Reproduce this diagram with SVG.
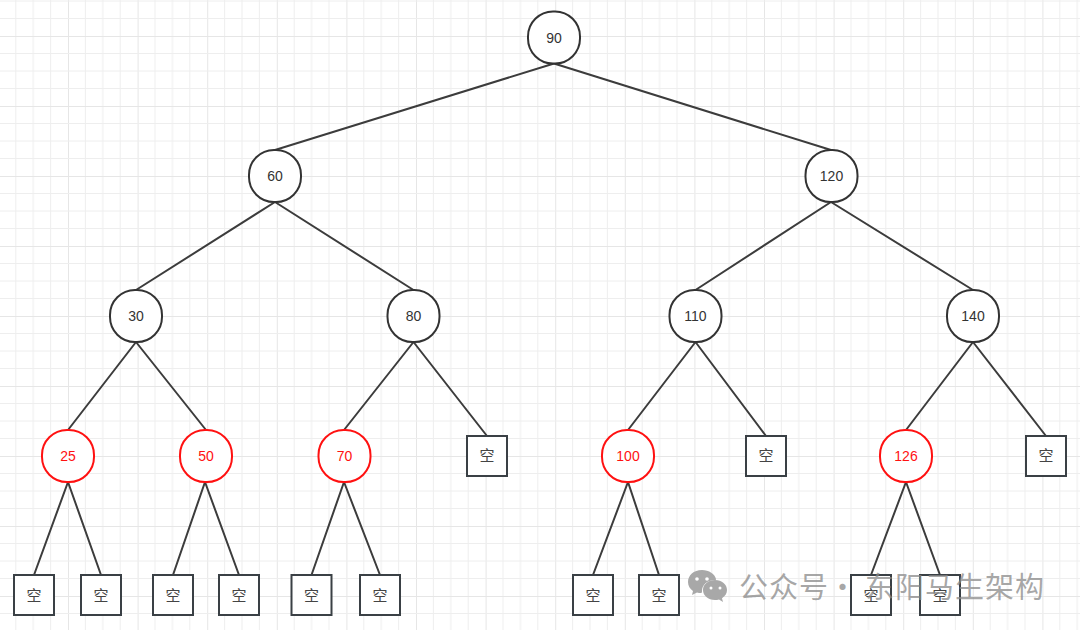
<svg xmlns="http://www.w3.org/2000/svg" width="1080" height="630" viewBox="0 0 1080 630">
<style>
.n{fill:#fff;stroke:#333;stroke-width:2;width:52px;height:52px;rx:25px}
.r{fill:#fff;stroke:#f11;stroke-width:2;width:52px;height:52px;rx:25px}
.s{fill:#fff;stroke:#3a4045;stroke-width:2;width:40px;height:40px}
.t{font:14px "Liberation Sans",Arial,sans-serif;fill:#333;text-anchor:middle}
.tr{font:14px "Liberation Sans",Arial,sans-serif;fill:#f11;text-anchor:middle}
.k{font:15px "Noto Sans CJK SC",sans-serif;fill:#444;text-anchor:middle}
.c{stroke:#3c3c3c;stroke-width:2;fill:none}
.w{font:29px "Noto Sans CJK SC",sans-serif;fill:#8a8a8a;fill-opacity:.75;letter-spacing:1px}
</style>
<defs>
<pattern id="gv" patternUnits="userSpaceOnUse" x="-1.6" y="0" width="69.6" height="70">
<path d="M17.4 0V70M34.8 0V70M52.2 0V70" stroke="#eeeeee" stroke-width="1" fill="none"/>
<path d="M0 0V70" stroke="#e6e6e6" stroke-width="2" fill="none"/>
</pattern>
<pattern id="gh" patternUnits="userSpaceOnUse" x="0" y="36" width="70" height="70">
<path d="M0 17.5H70M0 35H70M0 52.5H70" stroke="#eeeeee" stroke-width="1" fill="none"/>
<path d="M0 0H70" stroke="#e6e6e6" stroke-width="2" fill="none"/>
</pattern>
</defs>
<rect width="1080" height="630" fill="#fff"/>
<rect width="1080" height="630" fill="url(#gv)"/>
<rect width="1080" height="630" fill="url(#gh)"/>
<g id="connectors" class="c">
<path d="M554 63.5L275 150M554 63.5L831 150"/>
<path d="M275 202L136 290M275 202L413.5 290M831 202L695.5 290M831 202L973 290"/>
<path d="M136 342L68 430M136 342L206 430M413.5 342L344 430M413.5 342L487 436M695.5 342L628 430M695.5 342L766 436M973 342L906 430M973 342L1046 436"/>
<path d="M68 482L34 575M68 482L101 575M205 482L173 575M205 482L239 575M344 482L311.5 575M344 482L380 575M628 482L593 575M628 482L659 575M906 482L871 575M906 482L940 575"/>
</g>
<g id="n90"><rect class="n" x="528" y="11.500"/><text class="t" x="554" y="42.500">90</text></g>
<g id="n60"><rect class="n" x="249" y="150"/><text class="t" x="275" y="181">60</text></g>
<g id="n120"><rect class="n" x="805.500" y="150"/><text class="t" x="831.500" y="181">120</text></g>
<g id="n30"><rect class="n" x="110" y="290"/><text class="t" x="136" y="321">30</text></g>
<g id="n80"><rect class="n" x="387.500" y="290"/><text class="t" x="413.500" y="321">80</text></g>
<g id="n110"><rect class="n" x="669.500" y="290"/><text class="t" x="695.500" y="321">110</text></g>
<g id="n140"><rect class="n" x="947" y="290"/><text class="t" x="973" y="321">140</text></g>
<g id="n25"><rect class="r" x="42" y="430"/><text class="tr" x="68" y="461">25</text></g>
<g id="n50"><rect class="r" x="180" y="430"/><text class="tr" x="206" y="461">50</text></g>
<g id="n70"><rect class="r" x="318.500" y="430"/><text class="tr" x="344.500" y="461">70</text></g>
<g id="e1"><rect class="s" x="467" y="436"/><text class="k" x="487" y="461">空</text></g>
<g id="n100"><rect class="r" x="602" y="430"/><text class="tr" x="628" y="461">100</text></g>
<g id="e2"><rect class="s" x="746" y="436"/><text class="k" x="766" y="461">空</text></g>
<g id="n126"><rect class="r" x="880" y="430"/><text class="tr" x="906" y="461">126</text></g>
<g id="e3"><rect class="s" x="1026" y="436"/><text class="k" x="1046" y="461">空</text></g>
<g id="e4"><rect class="s" x="14" y="575"/><text class="k" x="34" y="600.500">空</text></g>
<g id="e5"><rect class="s" x="81" y="575"/><text class="k" x="101" y="600.500">空</text></g>
<g id="e6"><rect class="s" x="153" y="575"/><text class="k" x="173" y="600.500">空</text></g>
<g id="e7"><rect class="s" x="219" y="575"/><text class="k" x="239" y="600.500">空</text></g>
<g id="e8"><rect class="s" x="291.500" y="575"/><text class="k" x="311.500" y="600.500">空</text></g>
<g id="e9"><rect class="s" x="360" y="575"/><text class="k" x="380" y="600.500">空</text></g>
<g id="e10"><rect class="s" x="573" y="575"/><text class="k" x="593" y="600.500">空</text></g>
<g id="e11"><rect class="s" x="639" y="575"/><text class="k" x="659" y="600.500">空</text></g>
<g id="e12"><rect class="s" x="851" y="575"/><text class="k" x="871" y="600.500">空</text></g>
<g id="e13"><rect class="s" x="920" y="575"/><text class="k" x="940" y="600.500">空</text></g>
<g id="watermark">
<path d="M702 570c-8.500 0-14 5.500-14 12 0 4 2 7 5 9l-1 4 5-2.500c1.500.4 2.500.5 4 .5 1 0 1-1 1-2 0-6 5-11 13-11 .6 0 1 0 1-1-1-5-7-9-14-9z" fill="#a8a8a8"/>
<path d="M715 580c-7 0-12 4.500-12 10s5 10 12 10c1.500 0 2.500-.2 4-.6l4 2.600-1-3.800c3-2 5-4.700 5-8.200 0-5.500-5-10-12-10z" fill="#a8a8a8"/>
<circle cx="697" cy="579" r="1.800" fill="#fff"/><circle cx="707" cy="579" r="1.800" fill="#fff"/>
<circle cx="711" cy="588" r="1.500" fill="#fff"/><circle cx="720" cy="588" r="1.500" fill="#fff"/>
<text class="w" y="597.500"><tspan x="739">公众号 </tspan><tspan x="828">· </tspan><tspan x="865">东阳马生架构</tspan></text>
</g>
</svg>
